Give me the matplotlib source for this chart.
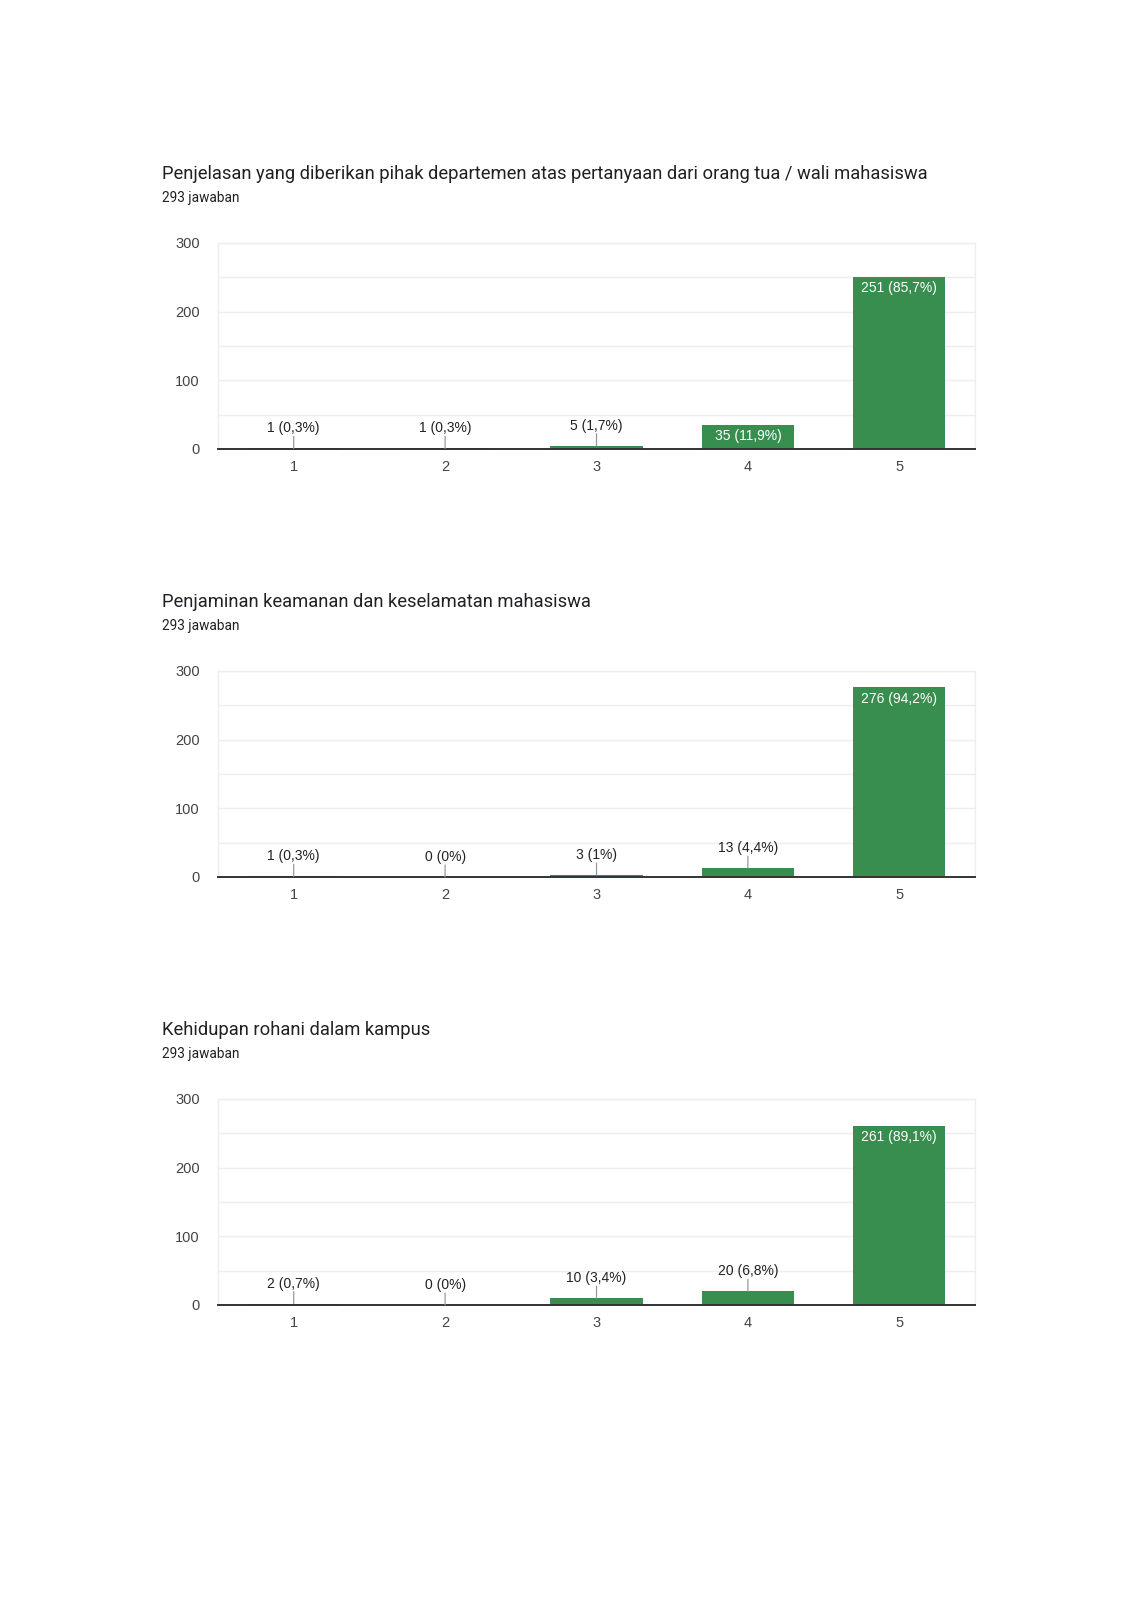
import matplotlib
matplotlib.use("Agg")
import matplotlib.pyplot as plt

plt.rcParams["font.family"] = ["Liberation Sans", "DejaVu Sans"]

categories = ["1", "2", "3", "4", "5"]

titles = [
    "Penjelasan yang diberikan pihak departemen atas pertanyaan dari orang tua / wali mahasiswa",
    "Penjaminan keamanan dan keselamatan mahasiswa",
    "Kehidupan rohani dalam kampus",
]

subtitle = "293 jawaban"

counts_1 = [1, 1, 5, 35, 251]
counts_2 = [1, 0, 3, 13, 276]
counts_3 = [2, 0, 10, 20, 261]

labels_1 = ["1 (0,3%)", "1 (0,3%)", "5 (1,7%)", "35 (11,9%)", "251 (85,7%)"]
labels_2 = ["1 (0,3%)", "0 (0%)", "3 (1%)", "13 (4,4%)", "276 (94,2%)"]
labels_3 = ["2 (0,7%)", "0 (0%)", "10 (3,4%)", "20 (6,8%)", "261 (89,1%)"]

y_ticks = [0, 100, 200, 300]

BAR_COLOR = "#388e4f"
TEXT_COLOR = "#444444"

fig = plt.figure(figsize=(11.32, 16), dpi=100)

all_counts = [counts_1, counts_2, counts_3]
all_labels = [labels_1, labels_2, labels_3]

# bottom of each plot area in figure fraction (chart spacing 428 px)
bottoms = [1 - 449 / 1600, 1 - 877 / 1600, 1 - 1305 / 1600]
left = 218 / 1132
width = 757 / 1132
height = 206 / 1600

for title, counts, labels, bottom in zip(titles, all_counts, all_labels, bottoms):

    ax = fig.add_axes([left, bottom, width, height])

    x = list(range(1, len(categories) + 1))

    ax.bar(x, counts, width=0.61, color=BAR_COLOR, zorder=3)

    ax.set_xlim(0.5, 5.5)
    ax.set_ylim(0, 300)

    ax.set_yticks(y_ticks)
    ax.set_yticks(range(50, 300, 100), minor=True)
    ax.set_xticks(x)
    ax.set_xticklabels(categories)

    ax.grid(axis="y", which="both", color="#eeeeee", linewidth=1, zorder=0)
    ax.tick_params(length=0, which="both", labelsize=10.5, colors=TEXT_COLOR)
    ax.tick_params(axis="x", pad=8)
    ax.tick_params(axis="y", pad=13)

    for side in ["top", "right", "left"]:
        ax.spines[side].set_color("#eeeeee")
        ax.spines[side].set_linewidth(1)
    ax.spines["bottom"].set_color("#333333")
    ax.spines["bottom"].set_linewidth(1.4)
    ax.spines["bottom"].set_zorder(4)

    for xi, c, lab in zip(x, counts, labels):
        bar_px = c / 300 * 206
        if bar_px > 20:
            ax.annotate(
                lab,
                xy=(xi, c),
                xytext=(0, -3),
                textcoords="offset points",
                ha="center",
                va="top",
                color="white",
                fontsize=10,
                zorder=5
            )
        else:
            ax.annotate(
                "",
                xy=(xi, c),
                xytext=(0, 8.6),
                textcoords="offset points",
                arrowprops=dict(arrowstyle="-", color="#999999", lw=0.9,
                                shrinkA=0, shrinkB=0),
                zorder=5
            )
            ax.annotate(
                lab,
                xy=(xi, c),
                xytext=(0, 14.4),
                textcoords="offset points",
                ha="center",
                va="center",
                color="#222222",
                fontsize=10,
                zorder=5
            )

    top_px = 1600 * (1 - bottom) - 206
    fig.text(162 / 1132, 1 - (top_px - 69) / 1600, title,
             fontsize=13.2, color="#202124", va="center", ha="left",
             family=["Roboto", "DejaVu Sans"])
    fig.text(162 / 1132, 1 - (top_px - 45) / 1600, subtitle,
             fontsize=9.8, color="#202124", va="center", ha="left",
             family=["Roboto", "DejaVu Sans"])

fig.savefig("out.png", dpi=100, facecolor="white")
